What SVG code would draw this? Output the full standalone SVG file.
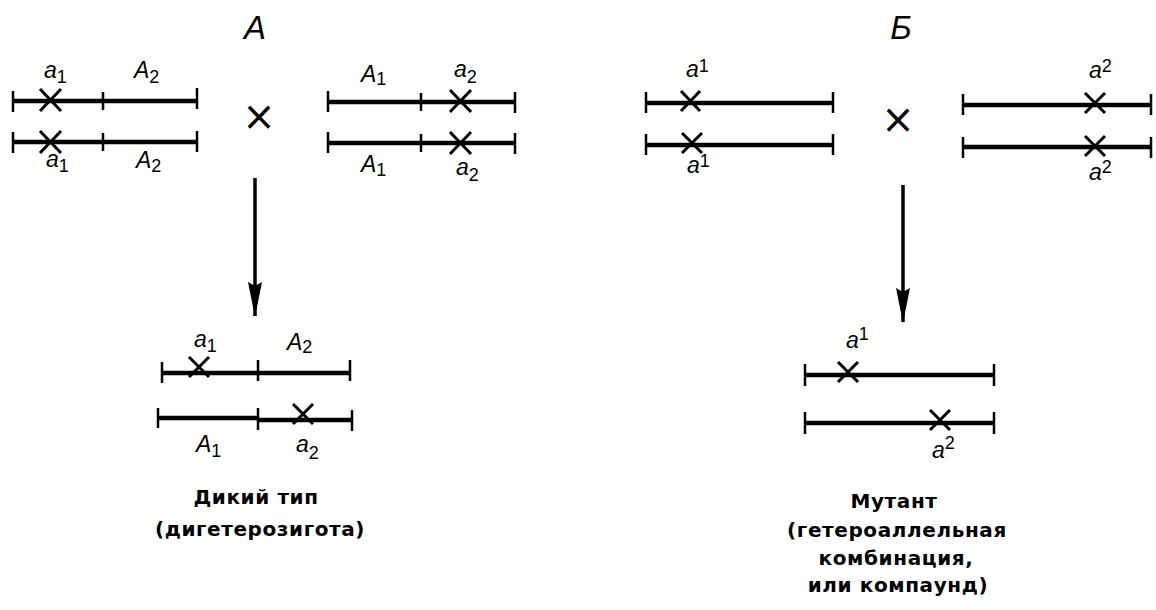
<svg xmlns="http://www.w3.org/2000/svg" width="1156" height="610" viewBox="0 0 1156 610">
<defs>
<style>
.ln{stroke:#000;stroke-width:4.5;fill:none}
.tk{stroke:#000;stroke-width:2.5;fill:none}
.mk{stroke:#000;stroke-width:3;fill:none}
.lb{font-family:"Liberation Sans",Arial,sans-serif;font-style:italic;font-size:23px;fill:#000}
.sb{font-size:18px;font-style:normal}
.ttl{font-family:"Liberation Sans",Arial,sans-serif;font-style:italic;font-size:33px;fill:#000;text-anchor:middle}
.cx{font-family:"DejaVu Sans",sans-serif;font-size:40px;fill:#000;text-anchor:middle}
.cap{font-family:"DejaVu Sans",sans-serif;font-weight:bold;font-size:20px;fill:#000;text-anchor:middle;letter-spacing:0.6px}
</style>
<marker id="ah" markerWidth="36" markerHeight="14" refX="34" refY="7" orient="auto" markerUnits="userSpaceOnUse">
<path d="M0,0 L35,7 L0,14 L4,7 Z" fill="#000"/>
</marker>
</defs>

<text class="ttl" x="255" y="39">A</text>
<text class="ttl" x="901" y="39">Б</text>

<g id="A-parent1">
<line class="ln" x1="13" y1="101" x2="197" y2="101"/>
<line class="tk" x1="13" y1="91" x2="13" y2="112"/>
<line class="tk" x1="103" y1="92" x2="103" y2="110"/>
<line class="tk" x1="197" y1="88" x2="197" y2="109"/>
<path class="mk" d="M40,89 L61,111 M61,89 L40,111"/>
<line class="ln" x1="13" y1="142" x2="197" y2="142"/>
<line class="tk" x1="13" y1="132" x2="13" y2="153"/>
<line class="tk" x1="103" y1="133" x2="103" y2="151"/>
<line class="tk" x1="197" y1="131" x2="197" y2="152"/>
<path class="mk" d="M40,131 L61,153 M61,131 L40,153"/>
<text class="lb" x="44" y="78">a<tspan class="sb" dy="5">1</tspan></text>
<text class="lb" x="134" y="78">A<tspan class="sb" dy="5">2</tspan></text>
<text class="lb" x="46" y="167">a<tspan class="sb" dy="5">1</tspan></text>
<text class="lb" x="136" y="168">A<tspan class="sb" dy="4">2</tspan></text>
</g>

<text class="cx" x="259" y="130">×</text>

<g id="A-parent2">
<line class="ln" x1="328" y1="102" x2="515" y2="102"/>
<line class="tk" x1="328" y1="91" x2="328" y2="112"/>
<line class="tk" x1="421" y1="93" x2="421" y2="111"/>
<line class="tk" x1="515" y1="92" x2="515" y2="113"/>
<path class="mk" d="M450,90 L471,112 M471,90 L450,112"/>
<line class="ln" x1="328" y1="143" x2="515" y2="143"/>
<line class="tk" x1="328" y1="132" x2="328" y2="153"/>
<line class="tk" x1="421" y1="134" x2="421" y2="152"/>
<line class="tk" x1="515" y1="133" x2="515" y2="154"/>
<path class="mk" d="M450,132 L471,154 M471,132 L450,154"/>
<text class="lb" x="361" y="82">A<tspan class="sb" dy="3">1</tspan></text>
<text class="lb" x="454" y="77">a<tspan class="sb" dy="6">2</tspan></text>
<text class="lb" x="361" y="172">A<tspan class="sb" dy="4">1</tspan></text>
<text class="lb" x="456" y="175">a<tspan class="sb" dy="6">2</tspan></text>
</g>

<g id="B-parent1">
<line class="ln" x1="646" y1="103" x2="833" y2="103"/>
<line class="tk" x1="646" y1="92" x2="646" y2="113"/>
<line class="tk" x1="833" y1="92" x2="833" y2="113"/>
<path class="mk" d="M681,91 L700,111 M700,91 L681,111"/>
<line class="ln" x1="646" y1="145" x2="833" y2="145"/>
<line class="tk" x1="646" y1="134" x2="646" y2="155"/>
<line class="tk" x1="833" y1="134" x2="833" y2="155"/>
<path class="mk" d="M682,133 L702,153 M702,133 L682,153"/>
<text class="lb" x="686" y="77">a<tspan class="sb" dy="-5">1</tspan></text>
<text class="lb" x="687" y="173">a<tspan class="sb" dy="-6">1</tspan></text>
</g>

<text class="cx" x="898" y="133">×</text>

<g id="B-parent2">
<line class="ln" x1="963" y1="105" x2="1151" y2="105"/>
<line class="tk" x1="963" y1="94" x2="963" y2="115"/>
<line class="tk" x1="1151" y1="94" x2="1151" y2="115"/>
<path class="mk" d="M1085,93 L1105,113 M1105,93 L1085,113"/>
<line class="ln" x1="963" y1="147" x2="1151" y2="147"/>
<line class="tk" x1="963" y1="137" x2="963" y2="158"/>
<line class="tk" x1="1151" y1="137" x2="1151" y2="158"/>
<path class="mk" d="M1085,136 L1105,156 M1105,136 L1085,156"/>
<text class="lb" x="1089" y="78">a<tspan class="sb" dy="-6">2</tspan></text>
<text class="lb" x="1089" y="180">a<tspan class="sb" dy="-7">2</tspan></text>
</g>

<g id="connectors">
<line x1="255" y1="178" x2="255" y2="316" stroke="#000" stroke-width="3.5" marker-end="url(#ah)"/>
<line x1="903" y1="185" x2="903" y2="322" stroke="#000" stroke-width="3.5" marker-end="url(#ah)"/>
</g>

<g id="A-result">
<line class="ln" x1="162" y1="373" x2="350" y2="373"/>
<line class="tk" x1="162" y1="362" x2="162" y2="383"/>
<line class="tk" x1="258" y1="360" x2="258" y2="381"/>
<line class="tk" x1="350" y1="360" x2="350" y2="381"/>
<path class="mk" d="M189,357 L209,377 M209,357 L189,377"/>
<line class="ln" x1="158" y1="418" x2="258" y2="418"/>
<line class="ln" x1="258" y1="420" x2="352" y2="420"/>
<line class="tk" x1="158" y1="408" x2="158" y2="428"/>
<line class="tk" x1="258" y1="408" x2="258" y2="430"/>
<line class="tk" x1="352" y1="410" x2="352" y2="431"/>
<path class="mk" d="M293,404 L313,424 M313,404 L293,424"/>
<text class="lb" x="194" y="347">a<tspan class="sb" dy="5">1</tspan></text>
<text class="lb" x="287" y="350">A<tspan class="sb" dy="3">2</tspan></text>
<text class="lb" x="196" y="452">A<tspan class="sb" dy="5">1</tspan></text>
<text class="lb" x="296" y="452">a<tspan class="sb" dy="7">2</tspan></text>
<text class="cap" x="256" y="504">Дикий тип</text>
<text class="cap" x="260" y="536">(дигетерозигота)</text>
</g>

<g id="B-result">
<line class="ln" x1="805" y1="375" x2="994" y2="375"/>
<line class="tk" x1="805" y1="364" x2="805" y2="386"/>
<line class="tk" x1="994" y1="364" x2="994" y2="386"/>
<path class="mk" d="M838,362 L858,382 M858,362 L838,382"/>
<line class="ln" x1="805" y1="423" x2="994" y2="423"/>
<line class="tk" x1="805" y1="412" x2="805" y2="434"/>
<line class="tk" x1="994" y1="412" x2="994" y2="434"/>
<path class="mk" d="M930,410 L950,430 M950,410 L930,430"/>
<text class="lb" x="846" y="348">a<tspan class="sb" dy="-8">1</tspan></text>
<text class="lb" x="932" y="458">a<tspan class="sb" dy="-9">2</tspan></text>
<text class="cap" x="894" y="508">Мутант</text>
<text class="cap" x="897" y="537">(гетероаллельная</text>
<text class="cap" x="896" y="565">комбинация,</text>
<text class="cap" x="898" y="592">или компаунд)</text>
</g>
</svg>
